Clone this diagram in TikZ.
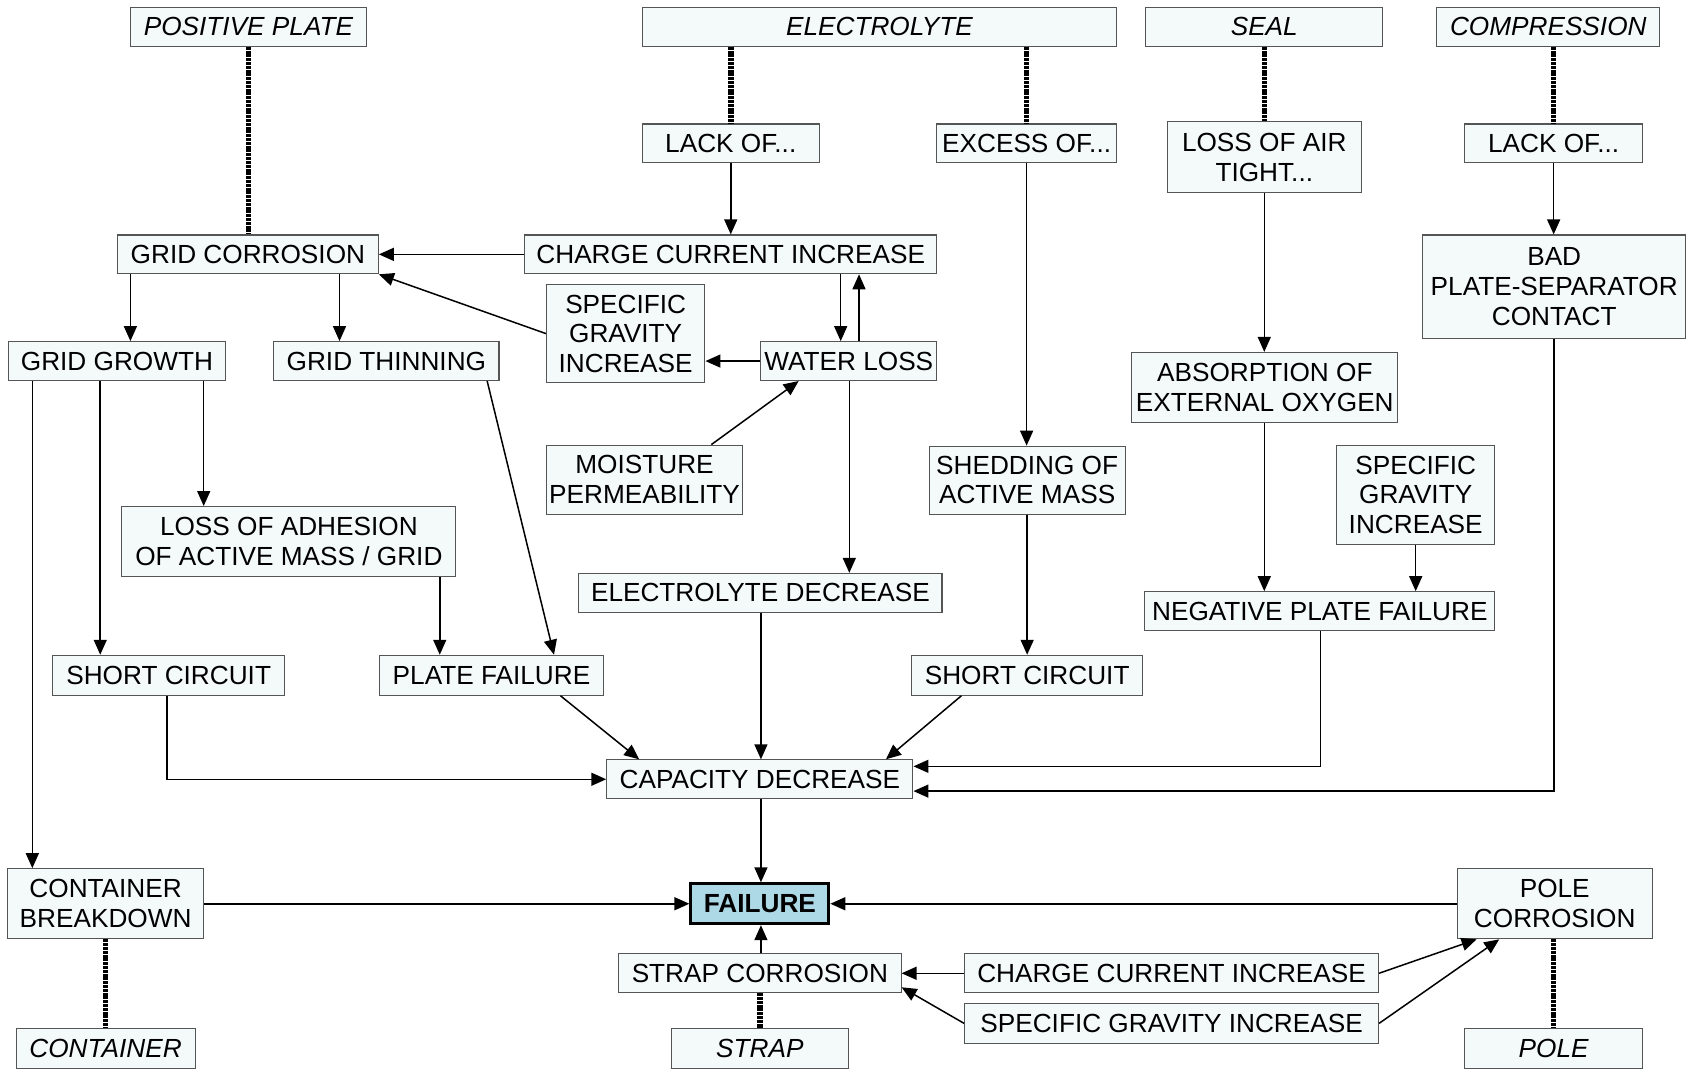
\documentclass[tikz,border=0pt]{standalone}
\usepackage{fontspec}
\setmainfont{Liberation Sans}
\usetikzlibrary{arrows.meta}
\definecolor{boxfill}{HTML}{F4F9F9}
\definecolor{boxline}{HTML}{555555}
\definecolor{failfill}{HTML}{ADD8E6}
\newcommand\bx[7][]{\node[box,#1,minimum width={(#5-#3)*1.0778pt},minimum height={(#6-#4)*1.0778pt}] (#2) at ({(#3+#5)/2},{(#4+#6)/2}) {#7};}
\tikzset{
 box/.style={draw=boxline, fill=boxfill, line width=1.1pt, align=center, inner sep=0pt, font=\fontsize{26.2}{29.6}\selectfont},
 src/.style={font=\fontsize{26.2}{29.6}\selectfont\itshape},
 fail/.style={draw=black, line width=3pt, fill=failfill, font=\fontsize{26.2}{29.6}\selectfont\bfseries},
 arr/.style={line width=1.5pt, -{Triangle[length=15pt,width=13pt]}},
 link/.style={line width=5.5pt, dash pattern=on 3pt off 0.8pt},
}
\begin{document}
\begin{tikzpicture}[x=1.0778pt,y=-1.0778pt]
\useasboundingbox (0,0) rectangle (1568,1000);
% sources
\bx[src]{pp}{121}{7}{340}{43}{POSITIVE PLATE}
\bx[src]{el}{596}{7}{1036}{43}{ELECTROLYTE}
\bx[src]{seal}{1063}{7}{1283}{43}{SEAL}
\bx[src]{comp}{1333}{7}{1540}{43}{COMPRESSION}
\bx[src]{cont}{15}{954}{181}{991}{CONTAINER}
\bx[src]{strap}{623}{954}{787}{991}{STRAP}
\bx[src]{pole}{1359}{954}{1524}{991}{POLE}
% others
\bx{lack1}{596}{115}{760}{151}{LACK OF...}
\bx{exc}{869}{115}{1036}{151}{EXCESS OF...}
\bx{lat}{1083}{113}{1263}{179}{LOSS OF AIR\\TIGHT...}
\bx{lack2}{1359}{115}{1524}{151}{LACK OF...}
\bx{gc}{109}{218}{351}{254}{GRID CORROSION}
\bx{cci}{487}{218}{869}{254}{CHARGE CURRENT INCREASE}
\bx{bad}{1320}{218}{1564}{314}{BAD\\PLATE-SEPARATOR\\CONTACT}
\bx{sgi1}{507}{264}{654}{355}{SPECIFIC\\GRAVITY\\INCREASE}
\bx{gg}{8}{317}{209}{353}{GRID GROWTH}
\bx{gt}{254}{317}{463}{353}{GRID THINNING}
\bx{wl}{706}{317}{869}{353}{WATER LOSS}
\bx{abs}{1050}{327}{1297}{392}{ABSORPTION OF\\EXTERNAL OXYGEN}
\bx{moist}{507}{413}{689}{477}{MOISTURE\\PERMEABILITY}
\bx{shed}{862}{414}{1044}{477}{SHEDDING OF\\ACTIVE MASS}
\bx{sgi2}{1240}{413}{1387}{505}{SPECIFIC\\GRAVITY\\INCREASE}
\bx{loa}{113}{470}{423}{535}{LOSS OF ADHESION\\OF ACTIVE MASS / GRID}
\bx{ed}{537}{532}{874}{568}{ELECTROLYTE DECREASE}
\bx{npf}{1062}{549}{1387}{585}{NEGATIVE PLATE FAILURE}
\bx{scl}{49}{608}{264}{645}{SHORT CIRCUIT}
\bx{pf}{352}{608}{560}{645}{PLATE FAILURE}
\bx{scr}{846}{608}{1060}{645}{SHORT CIRCUIT}
\bx{cap}{563}{705}{847}{741}{CAPACITY DECREASE}
\bx{cb}{7}{806}{189}{871}{CONTAINER\\BREAKDOWN}
\bx[fail]{fail}{641}{820}{769}{857}{FAILURE}
\bx{pc}{1352}{806}{1533}{871}{POLE\\CORROSION}
\bx{sc}{574}{885}{836}{921}{STRAP CORROSION}
\bx{cci2}{895}{885}{1279}{921}{CHARGE CURRENT INCREASE}
\bx{sgi3}{895}{931}{1279}{968}{SPECIFIC GRAVITY INCREASE}
% thick links
\draw[link] (pp.south) -- (pp.south |- gc.north);
\draw[link] (el.south -| lack1.north) -- (lack1.north);
\draw[link] (el.south -| exc.north) -- (exc.north);
\draw[link] (seal.south) -- (seal.south |- lat.north);
\draw[link] (comp.south -| lack2.north) -- (lack2.north);
\draw[link] (cb.south) -- (cb.south |- cont.north);
\draw[link] (sc.south) -- (sc.south |- strap.north);
\draw[link] (pc.south -| pole.north) -- (pole.north);
% arrows
\draw[arr] (lack1.south) -- (lack1.south |- cci.north);
\draw[arr] (cci.west) -- (cci.west -| gc.east);
\draw[arr] (sgi1.west) -- (gc.south east);
\draw[arr] (cci.south -| 780,0) -- (wl.north -| 780,0);
\draw[arr] (wl.north -| 797,0) -- (cci.south -| 797,0);
\draw[arr] (wl.west) -- (wl.west -| sgi1.east);
\draw[arr] (moist.north -| 660,0) -- (wl.south -| 741,0);
\draw[arr] (wl.south -| 788,0) -- (ed.north -| 788,0);
\draw[arr] (gc.south -| 121,0) -- (gg.north -| 121,0);
\draw[arr] (gc.south -| 315,0) -- (gt.north -| 315,0);
\draw[arr] (gg.south -| 30,0) -- (cb.north -| 30,0);
\draw[arr] (gg.south -| 93,0) -- (scl.north -| 93,0);
\draw[arr] (gg.south -| 189,0) -- (loa.north -| 189,0);
\draw[arr] (loa.south -| 408,0) -- (pf.north -| 408,0);
\draw[arr] (gt.south -| 452,0) -- (pf.north -| 514,0);
\draw[arr] (exc.south) -- (exc.south |- shed.north);
\draw[arr] (shed.south) -- (shed.south |- scr.north);
\draw[arr] (lat.south) -- (lat.south |- abs.north);
\draw[arr] (abs.south -| 1173,0) -- (npf.north -| 1173,0);
\draw[arr] (sgi2.south) -- (sgi2.south |- npf.north);
\draw[arr] (lack2.south) -- (lack2.south |- bad.north);
\draw[arr] (scl.south -| 155,0) |- (cap.west);
\draw[arr] (pf.south -| 520,0) -- (cap.north -| 593,0);
\draw[arr] (ed.south -| 706,0) -- (cap.north -| 706,0);
\draw[arr] (scr.south -| 892,0) -- (cap.north -| 822,0);
\draw[arr] (npf.south -| 1225,0) |- (cap.east |- 0,711);
\draw[arr] (bad.south) |- (cap.east |- 0,734);
\draw[arr] (cap.south -| 706,0) -- (fail.north -| 706,0);
\draw[arr] (cb.east) -- (fail.west);
\draw[arr] (pc.west) -- (fail.east);
\draw[arr] (sc.north -| 706,0) -- (fail.south -| 706,0);
\draw[arr] (cci2.west) -- (cci2.west -| sc.east);
\draw[arr] (sgi3.west) -- (sc.east |- 0,916);
\draw[arr] (cci2.east) -- (pc.south -| 1370,0);
\draw[arr] (sgi3.east) -- (pc.south -| 1391,0);
\end{tikzpicture}
\end{document}
